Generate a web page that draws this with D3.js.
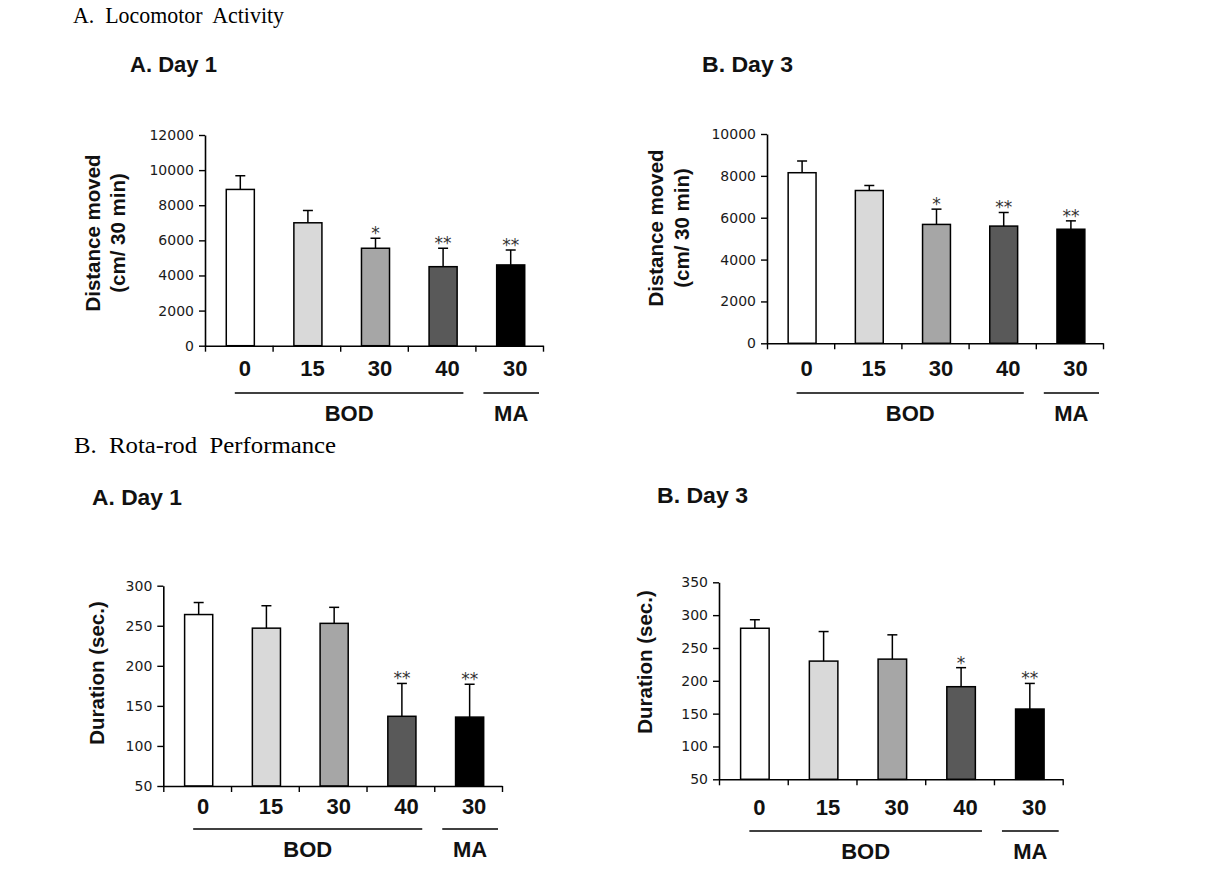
<!DOCTYPE html>
<html>
<head>
<meta charset="utf-8">
<script src="https://cdn.jsdelivr.net/npm/d3@7/dist/d3.min.js"></script>
<style>
  html, body { margin: 0; padding: 0; background: #ffffff; }
  svg { display: block; }
</style>
</head>
<body>
<svg id="chart" width="1220" height="876"></svg>
<script>
// ---------------- DATA ----------------
const categories = ["0", "15", "30", "40", "30"];
const groupLabels = ["BOD", "MA"];
const groupFrom = [0, 4];
const groupTo = [3, 4];
const barColors = ["#ffffff", "#d9d9d9", "#a6a6a6", "#595959", "#000000"];

const sectionTitles = ["A.  Locomotor  Activity", "B.  Rota-rod  Performance"];
const panelTitles = ["A. Day 1", "B. Day 3", "A. Day 1", "B. Day 3"];

// Locomotor activity (distance moved, cm / 30 min)
const locoDay1Mean = [8900, 7000, 5550, 4500, 4600];
const locoDay1Err  = [780, 700, 570, 1050, 850];
const locoDay1Sig  = ["", "", "*", "**", "**"];
const locoDay1Ticks = [0, 2000, 4000, 6000, 8000, 10000, 12000];

const locoDay3Mean = [8150, 7300, 5680, 5600, 5450];
const locoDay3Err  = [560, 240, 730, 650, 400];
const locoDay3Sig  = ["", "", "*", "**", "**"];
const locoDay3Ticks = [0, 2000, 4000, 6000, 8000, 10000];

// Rota-rod performance (duration, sec.)
const rotaDay1Mean = [264, 247, 253, 137, 136];
const rotaDay1Err  = [15, 28, 20, 41, 41];
const rotaDay1Sig  = ["", "", "", "**", "**"];
const rotaDay1Ticks = [50, 100, 150, 200, 250, 300];

const rotaDay3Mean = [280, 230, 233, 191, 157];
const rotaDay3Err  = [13, 45, 37, 29, 39];
const rotaDay3Sig  = ["", "", "", "*", "**"];
const rotaDay3Ticks = [50, 100, 150, 200, 250, 300, 350];

const locoYLabel = ["Distance moved", "(cm/ 30 min)"];
const rotaYLabel = ["Duration (sec.)"];

// ---------------- LAYOUT ----------------
const svg = d3.select("#chart");

const panels = [
  { mean: locoDay1Mean, err: locoDay1Err, sig: locoDay1Sig, ticks: locoDay1Ticks, ylab: locoYLabel,
    x0: 205, x1: 543, yTop: 135, yBot: 345.7, catY: 368, lineY: 393, grpY: 413,
    ylabX: [93, 118], ylabY: 233, title: panelTitles[0], titleX: 130, titleY: 72, titleW: 87 },
  { mean: locoDay3Mean, err: locoDay3Err, sig: locoDay3Sig, ticks: locoDay3Ticks, ylab: locoYLabel,
    x0: 767, x1: 1103, yTop: 134, yBot: 343.3, catY: 368, lineY: 393, grpY: 413,
    ylabX: [656, 682], ylabY: 228, title: panelTitles[1], titleX: 702, titleY: 72, titleW: 91 },
  { mean: rotaDay1Mean, err: rotaDay1Err, sig: rotaDay1Sig, ticks: rotaDay1Ticks, ylab: rotaYLabel,
    x0: 163.3, x1: 502, yTop: 585.7, yBot: 786, catY: 806, lineY: 829, grpY: 849,
    ylabX: [97], ylabY: 673, title: panelTitles[2], titleX: 92, titleY: 505, titleW: 90 },
  { mean: rotaDay3Mean, err: rotaDay3Err, sig: rotaDay3Sig, ticks: rotaDay3Ticks, ylab: rotaYLabel,
    x0: 719, x1: 1062.7, yTop: 582.3, yBot: 779.3, catY: 806.7, lineY: 831, grpY: 851,
    ylabX: [645], ylabY: 662, title: panelTitles[3], titleX: 657, titleY: 503, titleW: 91 }
];

// Section titles
const serif = "'Liberation Serif', 'DejaVu Serif', serif";
svg.append("text").attr("x", 73).attr("y", 23)
  .attr("font-family", serif).attr("font-size", 24)
  .style("white-space", "pre")
  .attr("textLength", 211).attr("lengthAdjust", "spacingAndGlyphs")
  .attr("fill", "#000").text(sectionTitles[0]);
svg.append("text").attr("x", 74).attr("y", 453)
  .attr("font-family", serif).attr("font-size", 24)
  .style("white-space", "pre")
  .attr("textLength", 262).attr("lengthAdjust", "spacingAndGlyphs")
  .attr("fill", "#000").text(sectionTitles[1]);

function drawPanel(p) {
  const g = svg.append("g");
  const n = categories.length;
  const yMin = p.ticks[0], yMax = p.ticks[p.ticks.length - 1];
  const y = d3.scaleLinear().domain([yMin, yMax]).range([p.yBot, p.yTop]);
  const pad = 0.585;
  const x = d3.scaleBand().domain(d3.range(n)).range([p.x0, p.x1])
    .paddingInner(pad).paddingOuter(pad / 2);
  const xb = d3.scaleLinear().domain([0, n]).range([p.x0, p.x1]);

  // Title
  g.append("text").attr("x", p.titleX).attr("y", p.titleY)
    .attr("font-family", "'Liberation Sans', Arial, sans-serif").attr("font-weight", "bold")
    .attr("font-size", 22).attr("textLength", p.titleW).attr("lengthAdjust", "spacingAndGlyphs")
    .attr("fill", "#111").text(p.title);

  // Bars
  g.selectAll("rect.bar").data(p.mean).join("rect")
    .attr("class", "bar")
    .attr("x", (d, i) => x(i) + 1.5)
    .attr("y", d => y(d))
    .attr("width", x.bandwidth())
    .attr("height", d => y(yMin) - y(d))
    .attr("fill", (d, i) => barColors[i])
    .attr("stroke", "#000").attr("stroke-width", 1.5);

  // Error bars (upper only)
  const cx = i => x(i) + 1.5 + x.bandwidth() / 2;
  g.selectAll("line.err").data(p.mean).join("line")
    .attr("class", "err")
    .attr("x1", (d, i) => cx(i)).attr("x2", (d, i) => cx(i))
    .attr("y1", d => y(d)).attr("y2", (d, i) => y(d + p.err[i]))
    .attr("stroke", "#000").attr("stroke-width", 1.5);
  g.selectAll("line.cap").data(p.mean).join("line")
    .attr("class", "cap")
    .attr("x1", (d, i) => cx(i) - 5).attr("x2", (d, i) => cx(i) + 5)
    .attr("y1", (d, i) => y(d + p.err[i])).attr("y2", (d, i) => y(d + p.err[i]))
    .attr("stroke", "#000").attr("stroke-width", 1.5);

  // Significance stars
  g.selectAll("text.sig").data(p.sig).join("text")
    .attr("class", "sig")
    .attr("x", (d, i) => cx(i))
    .attr("y", (d, i) => y(p.mean[i] + p.err[i]) + 1)
    .attr("text-anchor", "middle")
    .attr("font-family", "'DejaVu Sans', sans-serif").attr("font-size", 17)
    .attr("fill", "#333").text(d => d);

  // Y axis
  const yAxis = d3.axisLeft(y).tickValues(p.ticks).tickSize(6).tickSizeOuter(0).tickPadding(5)
    .tickFormat(d3.format("d"));
  const ya = g.append("g").attr("transform", `translate(${p.x0},0)`).call(yAxis);
  ya.select(".domain").attr("stroke", "#000").attr("stroke-width", 1.6);
  ya.selectAll(".tick line").attr("stroke", "#000").attr("stroke-width", 1.4);
  ya.selectAll(".tick text").attr("font-family", "'DejaVu Sans', sans-serif")
    .attr("font-size", 14).attr("fill", "#1a1a1a");

  // X axis (ticks at category boundaries)
  const xAxis = d3.axisBottom(xb).tickValues(d3.range(n + 1)).tickSize(6).tickSizeOuter(0)
    .tickFormat("");
  const xa = g.append("g").attr("transform", `translate(0,${p.yBot})`).call(xAxis);
  xa.select(".domain").attr("stroke", "#000").attr("stroke-width", 1.6);
  xa.selectAll(".tick line").attr("stroke", "#000").attr("stroke-width", 1.4);

  // Category labels
  g.selectAll("text.cat").data(categories).join("text")
    .attr("class", "cat")
    .attr("x", (d, i) => x(i) + x.bandwidth() / 2 + 6)
    .attr("y", p.catY).attr("dy", "0.36em")
    .attr("text-anchor", "middle")
    .attr("font-family", "'Liberation Sans', Arial, sans-serif").attr("font-weight", "bold")
    .attr("font-size", 22).attr("fill", "#111").text(d => d);

  // Group lines and labels
  groupLabels.forEach((lab, k) => {
    const a = groupFrom[k], b = groupTo[k];
    const xs = (a === 0) ? x(a) + x.bandwidth() / 2 - 4 : xb(a) + 8;
    const xe = (k === 0) ? xb(b + 1) - 12 : xb(b + 1) - 4;
    g.append("line").attr("x1", xs).attr("x2", xe).attr("y1", p.lineY).attr("y2", p.lineY)
      .attr("stroke", "#000").attr("stroke-width", 1.3);
    g.append("text").attr("x", (xs + xe) / 2).attr("y", p.grpY).attr("dy", "0.36em")
      .attr("text-anchor", "middle")
      .attr("font-family", "'Liberation Sans', Arial, sans-serif").attr("font-weight", "bold")
      .attr("font-size", 22).attr("fill", "#111").text(lab);
  });

  // Y label(s)
  p.ylab.forEach((t, k) => {
    g.append("text")
      .attr("transform", `translate(${p.ylabX[k]},${p.ylabY}) rotate(-90)`)
      .attr("dy", "0.36em")
      .attr("text-anchor", "middle")
      .attr("font-family", "'Liberation Sans', Arial, sans-serif").attr("font-weight", "bold")
      .attr("font-size", 20.5).attr("fill", "#111").text(t);
  });
}

panels.forEach(drawPanel);
</script>
</body>
</html>
